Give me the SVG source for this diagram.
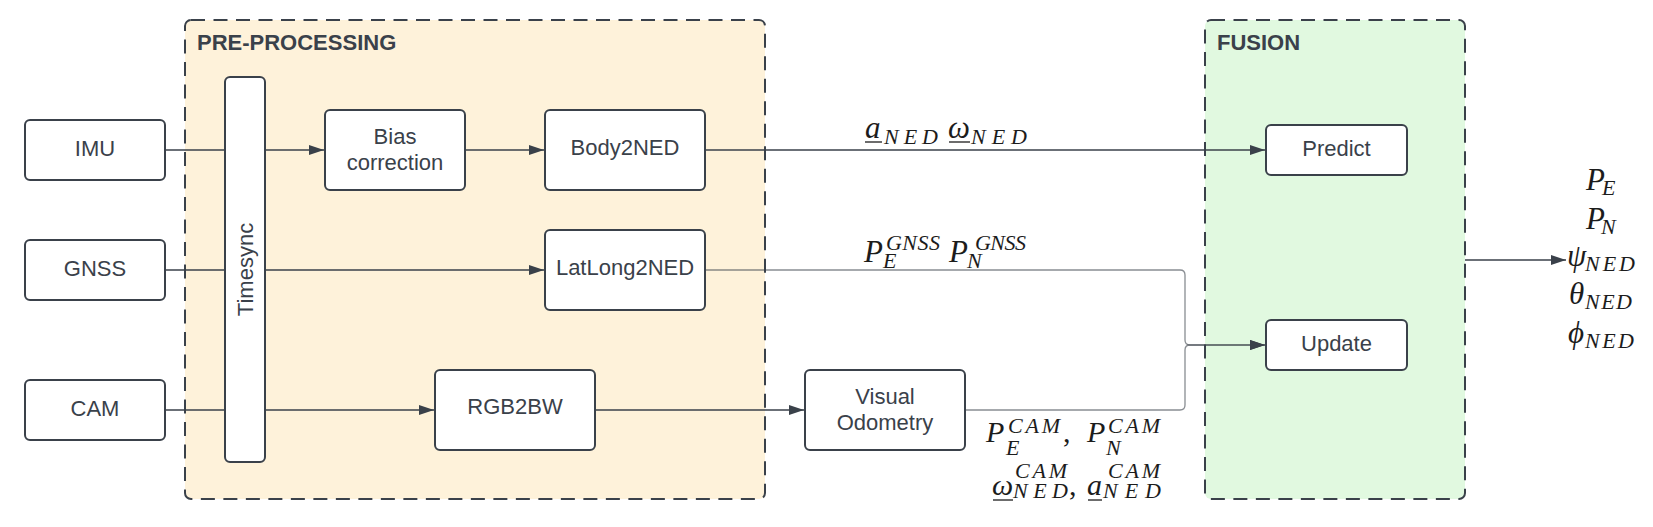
<svg xmlns="http://www.w3.org/2000/svg" width="1653" height="527" viewBox="0 0 1653 527">
<style>
.grp{stroke:#3a414a;stroke-width:2;stroke-dasharray:14 8.5}
.box{fill:#ffffff;stroke:#3a414a;stroke-width:2}
.lbl{font-family:"Liberation Sans",Arial,sans-serif;font-size:22px;fill:#3a414a;text-anchor:middle}
.gl{font-family:"Liberation Sans",Arial,sans-serif;font-size:22px;font-weight:bold;fill:#3a414a}
.c{fill:none;stroke:#3a414a;stroke-width:1.3}
.cg{fill:none;stroke:#3a414a;stroke-opacity:0.6;stroke-width:1.3}
.m{font-family:"Liberation Serif","DejaVu Serif",serif;font-style:italic;font-size:31px;fill:#1c1c1c}
.mc{font-family:"Liberation Serif","DejaVu Serif",serif;font-style:italic;font-size:30px;fill:#1c1c1c}
.s{font-family:"Liberation Serif","DejaVu Serif",serif;font-style:italic;font-size:22px;fill:#1c1c1c}
.p{font-family:"Liberation Serif","DejaVu Serif",serif;font-size:30px;fill:#1c1c1c}
.ul{stroke:#1c1c1c;stroke-width:1.3}
</style>
<defs>
<marker id="ah" markerUnits="userSpaceOnUse" markerWidth="16" markerHeight="10" refX="15" refY="5" orient="auto">
<path d="M0,0 L15,5 L0,10 z" fill="#3a414a"/>
</marker>
</defs>

<g id="group-preprocessing">
<rect class="grp" x="185" y="20" width="580" height="479" rx="6" fill="#fef2da"/>
<text class="gl" x="197" y="50">PRE-PROCESSING</text>
</g>
<g id="group-fusion">
<rect class="grp" x="1205" y="20" width="260" height="479" rx="6" fill="#e1f9e0"/>
<text class="gl" x="1217" y="50">FUSION</text>
</g>

<g id="connectors">
<path class="c" d="M165,150 H324" marker-end="url(#ah)"/>
<path class="c" d="M465,150 H544" marker-end="url(#ah)"/>
<path class="c" d="M705,150 H1265" marker-end="url(#ah)"/>
<path class="c" d="M165,270 H544" marker-end="url(#ah)"/>
<path class="c" d="M165,410 H434" marker-end="url(#ah)"/>
<path class="c" d="M595,410 H804" marker-end="url(#ah)"/>
<path class="cg" d="M705,270 H1180 Q1185,270 1185,275 V340 Q1185,345 1190,345 H1265" marker-end="url(#ah)"/>
<path class="cg" d="M965,410 H1180 Q1185,410 1185,405 V350 Q1185,345 1190,345 H1265" marker-end="url(#ah)"/>
<path class="c" d="M1465,260 H1566" marker-end="url(#ah)"/>
</g>

<g id="node-imu">
<rect class="box" x="25" y="120" width="140" height="60" rx="5"/>
<text class="lbl" x="95" y="155.5">IMU</text>
</g>
<g id="node-gnss">
<rect class="box" x="25" y="240" width="140" height="60" rx="5"/>
<text class="lbl" x="95" y="275.5">GNSS</text>
</g>
<g id="node-cam">
<rect class="box" x="25" y="380" width="140" height="60" rx="5"/>
<text class="lbl" x="95" y="415.5">CAM</text>
</g>
<g id="node-timesync">
<rect class="box" x="225" y="77" width="40" height="385" rx="5"/>
<text class="lbl" transform="translate(253,269.5) rotate(-90)">Timesync</text>
</g>
<g id="node-bias">
<rect class="box" x="325" y="110" width="140" height="80" rx="5"/>
<text class="lbl" x="395" y="143.5">Bias</text>
<text class="lbl" x="395" y="169.5">correction</text>
</g>
<g id="node-body2ned">
<rect class="box" x="545" y="110" width="160" height="80" rx="5"/>
<text class="lbl" x="625" y="155">Body2NED</text>
</g>
<g id="node-latlong2ned">
<rect class="box" x="545" y="230" width="160" height="80" rx="5"/>
<text class="lbl" x="625" y="275">LatLong2NED</text>
</g>
<g id="node-rgb2bw">
<rect class="box" x="435" y="370" width="160" height="80" rx="5"/>
<text class="lbl" x="515" y="414">RGB2BW</text>
</g>
<g id="node-vo">
<rect class="box" x="805" y="370" width="160" height="80" rx="5"/>
<text class="lbl" x="885" y="404">Visual</text>
<text class="lbl" x="885" y="429.5">Odometry</text>
</g>
<g id="node-predict">
<rect class="box" x="1266" y="125" width="141" height="50" rx="5"/>
<text class="lbl" x="1336.5" y="156">Predict</text>
</g>
<g id="node-update">
<rect class="box" x="1266" y="320" width="141" height="50" rx="5"/>
<text class="lbl" x="1336.5" y="351">Update</text>
</g>

<g id="label-imu-out">
<text class="m" x="865" y="138">a</text>
<line class="ul" x1="865" y1="142" x2="882" y2="142"/>
<text class="s" x="884" y="144" textLength="54" lengthAdjust="spacing">NED</text>
<text class="m" x="948" y="138">ω</text>
<line class="ul" x1="949" y1="142" x2="970" y2="142"/>
<text class="s" x="971" y="144" textLength="56" lengthAdjust="spacing">NED</text>
</g>
<g id="label-gnss-out">
<text class="m" x="864" y="261.5">P</text>
<text class="s" x="886" y="250" textLength="54" lengthAdjust="spacing">GNSS</text>
<text class="s" x="883" y="268">E</text>
<text class="m" x="949" y="261.5">P</text>
<text class="s" x="975" y="250" textLength="51" lengthAdjust="spacing">GNSS</text>
<text class="s" x="967" y="268">N</text>
</g>
<g id="label-cam-out">
<text class="mc" x="986" y="441.5">P</text>
<text class="s" x="1008" y="433" textLength="52" lengthAdjust="spacing">CAM</text>
<text class="s" x="1006" y="455">E</text>
<text class="p" x="1063" y="441.5">,</text>
<text class="mc" x="1087" y="441.5">P</text>
<text class="s" x="1108" y="433" textLength="52" lengthAdjust="spacing">CAM</text>
<text class="s" x="1106" y="455">N</text>
<text class="mc" x="992" y="495">ω</text>
<line class="ul" x1="993" y1="500" x2="1013" y2="500"/>
<text class="s" x="1015" y="478" textLength="52" lengthAdjust="spacing">CAM</text>
<text class="s" x="1013" y="498" textLength="55" lengthAdjust="spacing">NED</text>
<text class="p" x="1069" y="495">,</text>
<text class="mc" x="1087" y="495">a</text>
<line class="ul" x1="1088" y1="500" x2="1102" y2="500"/>
<text class="s" x="1108" y="478" textLength="52" lengthAdjust="spacing">CAM</text>
<text class="s" x="1103" y="498" textLength="58" lengthAdjust="spacing">NED</text>
</g>
<g id="label-output">
<text class="m" x="1586" y="190">P</text>
<text class="s" x="1602" y="195">E</text>
<text class="m" x="1586" y="228.5">P</text>
<text class="s" x="1601" y="233.5">N</text>
<text class="m" x="1567" y="266">ψ</text>
<text class="s" x="1585" y="271" textLength="50" lengthAdjust="spacing">NED</text>
<text class="m" x="1569" y="304">θ</text>
<text class="s" x="1585" y="309" textLength="47" lengthAdjust="spacing">NED</text>
<text class="m" x="1568" y="343">ϕ</text>
<text class="s" x="1585" y="348" textLength="49" lengthAdjust="spacing">NED</text>
</g>
</svg>
